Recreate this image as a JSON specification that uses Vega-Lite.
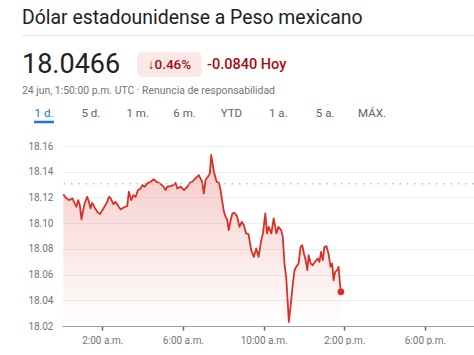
{
  "$schema": "https://vega.github.io/schema/vega-lite/v6.json",
  "padding": {"left": 22, "top": 0, "right": 0, "bottom": 0},
  "background": "white",
  "spacing": 0,
  "bounds": "flush",
  "align": "none",
  "config": {"view": {"stroke": null}, "font": "Roboto"},
  "datasets": {
    "rates": [
      {"time": "2024-06-24T00:04", "rate": 18.1224},
      {"time": "2024-06-24T00:11", "rate": 18.1197},
      {"time": "2024-06-24T00:21", "rate": 18.1179},
      {"time": "2024-06-24T00:31", "rate": 18.1193},
      {"time": "2024-06-24T00:37", "rate": 18.1158},
      {"time": "2024-06-24T00:43", "rate": 18.1127},
      {"time": "2024-06-24T00:48", "rate": 18.1179},
      {"time": "2024-06-24T00:53", "rate": 18.1140},
      {"time": "2024-06-24T00:58", "rate": 18.1029},
      {"time": "2024-06-24T01:03", "rate": 18.1101},
      {"time": "2024-06-24T01:08", "rate": 18.1158},
      {"time": "2024-06-24T01:15", "rate": 18.1205},
      {"time": "2024-06-24T01:20", "rate": 18.1166},
      {"time": "2024-06-24T01:25", "rate": 18.1115},
      {"time": "2024-06-24T01:30", "rate": 18.1158},
      {"time": "2024-06-24T01:37", "rate": 18.1122},
      {"time": "2024-06-24T01:45", "rate": 18.1088},
      {"time": "2024-06-24T01:53", "rate": 18.1070},
      {"time": "2024-06-24T02:00", "rate": 18.1101},
      {"time": "2024-06-24T02:05", "rate": 18.1122},
      {"time": "2024-06-24T02:13", "rate": 18.1158},
      {"time": "2024-06-24T02:20", "rate": 18.1205},
      {"time": "2024-06-24T02:25", "rate": 18.1193},
      {"time": "2024-06-24T02:33", "rate": 18.1148},
      {"time": "2024-06-24T02:39", "rate": 18.1166},
      {"time": "2024-06-24T02:46", "rate": 18.1140},
      {"time": "2024-06-24T02:54", "rate": 18.1107},
      {"time": "2024-06-24T03:04", "rate": 18.1122},
      {"time": "2024-06-24T03:14", "rate": 18.1133},
      {"time": "2024-06-24T03:19", "rate": 18.1244},
      {"time": "2024-06-24T03:26", "rate": 18.1179},
      {"time": "2024-06-24T03:32", "rate": 18.1218},
      {"time": "2024-06-24T03:39", "rate": 18.1205},
      {"time": "2024-06-24T03:46", "rate": 18.1257},
      {"time": "2024-06-24T03:54", "rate": 18.1270},
      {"time": "2024-06-24T03:59", "rate": 18.1296},
      {"time": "2024-06-24T04:06", "rate": 18.1283},
      {"time": "2024-06-24T04:14", "rate": 18.1309},
      {"time": "2024-06-24T04:24", "rate": 18.1322},
      {"time": "2024-06-24T04:33", "rate": 18.1341},
      {"time": "2024-06-24T04:41", "rate": 18.1322},
      {"time": "2024-06-24T04:51", "rate": 18.1309},
      {"time": "2024-06-24T05:01", "rate": 18.1288},
      {"time": "2024-06-24T05:08", "rate": 18.1257},
      {"time": "2024-06-24T05:13", "rate": 18.1283},
      {"time": "2024-06-24T05:23", "rate": 18.1288},
      {"time": "2024-06-24T05:31", "rate": 18.1296},
      {"time": "2024-06-24T05:38", "rate": 18.1314},
      {"time": "2024-06-24T05:43", "rate": 18.1270},
      {"time": "2024-06-24T05:53", "rate": 18.1283},
      {"time": "2024-06-24T06:03", "rate": 18.1257},
      {"time": "2024-06-24T06:13", "rate": 18.1283},
      {"time": "2024-06-24T06:20", "rate": 18.1314},
      {"time": "2024-06-24T06:28", "rate": 18.1322},
      {"time": "2024-06-24T06:37", "rate": 18.1348},
      {"time": "2024-06-24T06:47", "rate": 18.1374},
      {"time": "2024-06-24T06:52", "rate": 18.1348},
      {"time": "2024-06-24T06:57", "rate": 18.1322},
      {"time": "2024-06-24T07:02", "rate": 18.1232},
      {"time": "2024-06-24T07:07", "rate": 18.1335},
      {"time": "2024-06-24T07:14", "rate": 18.1361},
      {"time": "2024-06-24T07:20", "rate": 18.1387},
      {"time": "2024-06-24T07:24", "rate": 18.1530},
      {"time": "2024-06-24T07:28", "rate": 18.1465},
      {"time": "2024-06-24T07:32", "rate": 18.1400},
      {"time": "2024-06-24T07:40", "rate": 18.1322},
      {"time": "2024-06-24T07:47", "rate": 18.1314},
      {"time": "2024-06-24T07:52", "rate": 18.1257},
      {"time": "2024-06-24T07:57", "rate": 18.1166},
      {"time": "2024-06-24T08:02", "rate": 18.1088},
      {"time": "2024-06-24T08:07", "rate": 18.1049},
      {"time": "2024-06-24T08:12", "rate": 18.1024},
      {"time": "2024-06-24T08:16", "rate": 18.0946},
      {"time": "2024-06-24T08:22", "rate": 18.1024},
      {"time": "2024-06-24T08:27", "rate": 18.1076},
      {"time": "2024-06-24T08:33", "rate": 18.1080},
      {"time": "2024-06-24T08:41", "rate": 18.1055},
      {"time": "2024-06-24T08:48", "rate": 18.0971},
      {"time": "2024-06-24T08:55", "rate": 18.1010},
      {"time": "2024-06-24T09:01", "rate": 18.0985},
      {"time": "2024-06-24T09:08", "rate": 18.0920},
      {"time": "2024-06-24T09:15", "rate": 18.0914},
      {"time": "2024-06-24T09:23", "rate": 18.0790},
      {"time": "2024-06-24T09:31", "rate": 18.0738},
      {"time": "2024-06-24T09:38", "rate": 18.0803},
      {"time": "2024-06-24T09:45", "rate": 18.0738},
      {"time": "2024-06-24T09:53", "rate": 18.0868},
      {"time": "2024-06-24T09:58", "rate": 18.0920},
      {"time": "2024-06-24T10:05", "rate": 18.1076},
      {"time": "2024-06-24T10:10", "rate": 18.0920},
      {"time": "2024-06-24T10:15", "rate": 18.0971},
      {"time": "2024-06-24T10:23", "rate": 18.0920},
      {"time": "2024-06-24T10:30", "rate": 18.1037},
      {"time": "2024-06-24T10:38", "rate": 18.0920},
      {"time": "2024-06-24T10:44", "rate": 18.0971},
      {"time": "2024-06-24T10:52", "rate": 18.0946},
      {"time": "2024-06-24T10:57", "rate": 18.0893},
      {"time": "2024-06-24T11:02", "rate": 18.0686},
      {"time": "2024-06-24T11:07", "rate": 18.0582},
      {"time": "2024-06-24T11:12", "rate": 18.0375},
      {"time": "2024-06-24T11:15", "rate": 18.0231},
      {"time": "2024-06-24T11:20", "rate": 18.0348},
      {"time": "2024-06-24T11:27", "rate": 18.0530},
      {"time": "2024-06-24T11:32", "rate": 18.0634},
      {"time": "2024-06-24T11:37", "rate": 18.0660},
      {"time": "2024-06-24T11:44", "rate": 18.0686},
      {"time": "2024-06-24T11:50", "rate": 18.0816},
      {"time": "2024-06-24T11:55", "rate": 18.0829},
      {"time": "2024-06-24T12:00", "rate": 18.0764},
      {"time": "2024-06-24T12:05", "rate": 18.0712},
      {"time": "2024-06-24T12:10", "rate": 18.0634},
      {"time": "2024-06-24T12:14", "rate": 18.0751},
      {"time": "2024-06-24T12:20", "rate": 18.0686},
      {"time": "2024-06-24T12:26", "rate": 18.0673},
      {"time": "2024-06-24T12:33", "rate": 18.0699},
      {"time": "2024-06-24T12:41", "rate": 18.0725},
      {"time": "2024-06-24T12:46", "rate": 18.0699},
      {"time": "2024-06-24T12:51", "rate": 18.0777},
      {"time": "2024-06-24T12:56", "rate": 18.0712},
      {"time": "2024-06-24T13:01", "rate": 18.0816},
      {"time": "2024-06-24T13:07", "rate": 18.0821},
      {"time": "2024-06-24T13:13", "rate": 18.0764},
      {"time": "2024-06-24T13:19", "rate": 18.0660},
      {"time": "2024-06-24T13:24", "rate": 18.0686},
      {"time": "2024-06-24T13:28", "rate": 18.0556},
      {"time": "2024-06-24T13:33", "rate": 18.0621},
      {"time": "2024-06-24T13:39", "rate": 18.0634},
      {"time": "2024-06-24T13:43", "rate": 18.0660},
      {"time": "2024-06-24T13:47", "rate": 18.0530},
      {"time": "2024-06-24T13:50", "rate": 18.0466}
    ],
    "latest": [{"time": "2024-06-24T13:50", "rate": 18.0466}],
    "previous": [{"previous_close": 18.1306}],
    "tabs": [
      {"tab": "1 d.", "selected": true},
      {"tab": "5 d.", "selected": false},
      {"tab": "1 m.", "selected": false},
      {"tab": "6 m.", "selected": false},
      {"tab": "YTD", "selected": false},
      {"tab": "1 a.", "selected": false},
      {"tab": "5 a.", "selected": false},
      {"tab": "MÁX.", "selected": false}
    ]
  },
  "vconcat": [
    {
      "width": 452,
      "height": 35,
      "data": {"values": [{"label": "Dólar estadounidense a Peso mexicano"}]},
      "mark": {"type": "text", "align": "left", "baseline": "middle", "fontSize": 19.4, "color": "#202124"},
      "encoding": {
        "x": {"field": "label", "type": "nominal", "axis": null, "scale": {"type": "point", "padding": 0, "align": 0}},
        "text": {"field": "label"}
      }
    },
    {
      "width": 452,
      "height": 1,
      "view": {"fill": "#e8eaed", "stroke": null},
      "data": {"values": []},
      "mark": "point"
    },
    {
      "width": 1,
      "height": 16,
      "data": {"values": []},
      "mark": "point"
    },
    {
      "hconcat": [
        {
          "width": 110,
          "height": 25,
          "data": {"values": [{"label": "18.0466"}]},
          "mark": {"type": "text", "align": "left", "baseline": "middle", "fontSize": 27, "color": "#202124"},
          "encoding": {
            "x": {"field": "label", "type": "nominal", "axis": null, "scale": {"type": "point", "padding": 0, "align": 0}},
            "text": {"field": "label"}
          }
        },
        {
          "width": 65,
          "height": 25,
          "view": {"fill": "#fce8e6", "stroke": null, "cornerRadius": 6},
          "data": {"values": [{"label": "↓0.46%"}]},
          "mark": {"type": "text", "align": "center", "baseline": "middle", "fontSize": 13.5, "fontWeight": 500, "color": "#a50e0e"},
          "encoding": {"text": {"field": "label"}}
        },
        {
          "width": 100,
          "height": 25,
          "data": {"values": [{"label": "-0.0840 Hoy"}]},
          "mark": {"type": "text", "align": "left", "baseline": "middle", "fontSize": 14.5, "fontWeight": 500, "color": "#a50e0e"},
          "encoding": {
            "x": {"field": "label", "type": "nominal", "axis": null, "scale": {"type": "point", "padding": 0, "align": 0}},
            "text": {"field": "label"}
          }
        }
      ],
      "spacing": 5,
      "bounds": "flush"
    },
    {
      "width": 1,
      "height": 25,
      "data": {"values": []},
      "mark": "point"
    },
    {
      "width": 452,
      "height": 27,
      "data": {"values": [{"label": "24 jun, 1:50:00 p.m. UTC · Renuncia de responsabilidad"}]},
      "mark": {"type": "text", "align": "left", "baseline": "middle", "fontSize": 10.4, "color": "#70757a"},
      "encoding": {
        "x": {"field": "label", "type": "nominal", "axis": null, "scale": {"type": "point", "padding": 0, "align": 0}},
        "text": {"field": "label"}
      }
    },
    {
      "width": 372,
      "height": 20,
      "data": {"name": "tabs"},
      "encoding": {
        "x": {"field": "tab", "type": "nominal", "sort": null, "axis": null, "scale": {"type": "point", "padding": 0.47}}
      },
      "layer": [
        {
          "mark": {"type": "text", "align": "center", "baseline": "middle", "fontSize": 11.5},
          "encoding": {
            "text": {"field": "tab"},
            "color": {
              "condition": {"test": "datum.selected", "value": "#1a73e8"},
              "value": "#5f6368"
            }
          }
        },
        {
          "transform": [{"filter": "datum.selected"}],
          "mark": {"type": "tick", "orient": "horizontal", "color": "#1a73e8", "thickness": 2.5, "size": 20, "yOffset": 8, "opacity": 1}
        }
      ]
    },
    {
      "width": 1,
      "height": 22,
      "data": {"values": []},
      "mark": "point"
    },
    {
      "hconcat": [
        {
          "width": 40,
          "height": 180,
          "data": {"values": []},
          "mark": "point"
        },
        {
          "width": 412,
          "height": 180,
          "encoding": {
            "x": {
              "field": "time",
              "type": "temporal",
              "scale": {
                "domain": [
                  {"year": 2024, "month": 6, "date": 24, "hours": 0, "minutes": 0},
                  {"year": 2024, "month": 6, "date": 24, "hours": 20, "minutes": 26}
                ]
              },
              "axis": {
                "title": null,
                "values": [
                  {"year": 2024, "month": 6, "date": 24, "hours": 2},
                  {"year": 2024, "month": 6, "date": 24, "hours": 6},
                  {"year": 2024, "month": 6, "date": 24, "hours": 10},
                  {"year": 2024, "month": 6, "date": 24, "hours": 14},
                  {"year": 2024, "month": 6, "date": 24, "hours": 18}
                ],
                "labelExpr": "timeFormat(datum.value, '%-I:%M') + (hours(datum.value) < 12 ? ' a.m.' : ' p.m.')",
                "grid": false,
                "domainColor": "#9aa0a6",
                "domainWidth": 1,
                "tickColor": "#5f6368",
                "tickSize": 4,
                "tickWidth": 1.5,
                "labelColor": "#70757a",
                "labelFontSize": 10,
                "labelPadding": 5,
                "labelFlush": false
              }
            },
            "y": {
              "field": "rate",
              "type": "quantitative",
              "scale": {"domain": [18.02, 18.16], "zero": false, "nice": false},
              "axis": {
                "title": null,
                "values": [18.02, 18.04, 18.06, 18.08, 18.10, 18.12, 18.14, 18.16],
                "format": ".2f",
                "grid": true,
                "gridColor": "#eceff1",
                "domain": false,
                "ticks": false,
                "labelPadding": 9,
                "labelColor": "#70757a",
                "labelFontSize": 10
              }
            }
          },
          "layer": [
            {
              "data": {"name": "rates"},
              "mark": {
                "type": "area",
                "color": {
                  "gradient": "linear",
                  "x1": 0, "y1": 0, "x2": 0, "y2": 1,
                  "stops": [
                    {"offset": 0, "color": "rgba(217,48,37,0.26)"},
                    {"offset": 1, "color": "rgba(217,48,37,0.0)"}
                  ]
                }
              },
              "encoding": {"y2": {"datum": 18.02}}
            },
            {
              "data": {"name": "rates"},
              "mark": {"type": "line", "color": "#d93025", "strokeWidth": 1.8, "strokeJoin": "round"}
            },
            {
              "data": {"name": "previous"},
              "mark": {"type": "rule", "color": "#bdc1c6", "strokeWidth": 1.5, "strokeDash": [1.5, 5.8]},
              "encoding": {
                "x": null,
                "y": {"field": "previous_close", "type": "quantitative"}
              }
            },
            {
              "data": {"name": "latest"},
              "mark": {"type": "circle", "color": "#d93025", "size": 45, "opacity": 1}
            }
          ]
        }
      ],
      "spacing": 0,
      "bounds": "flush"
    }
  ]
}
